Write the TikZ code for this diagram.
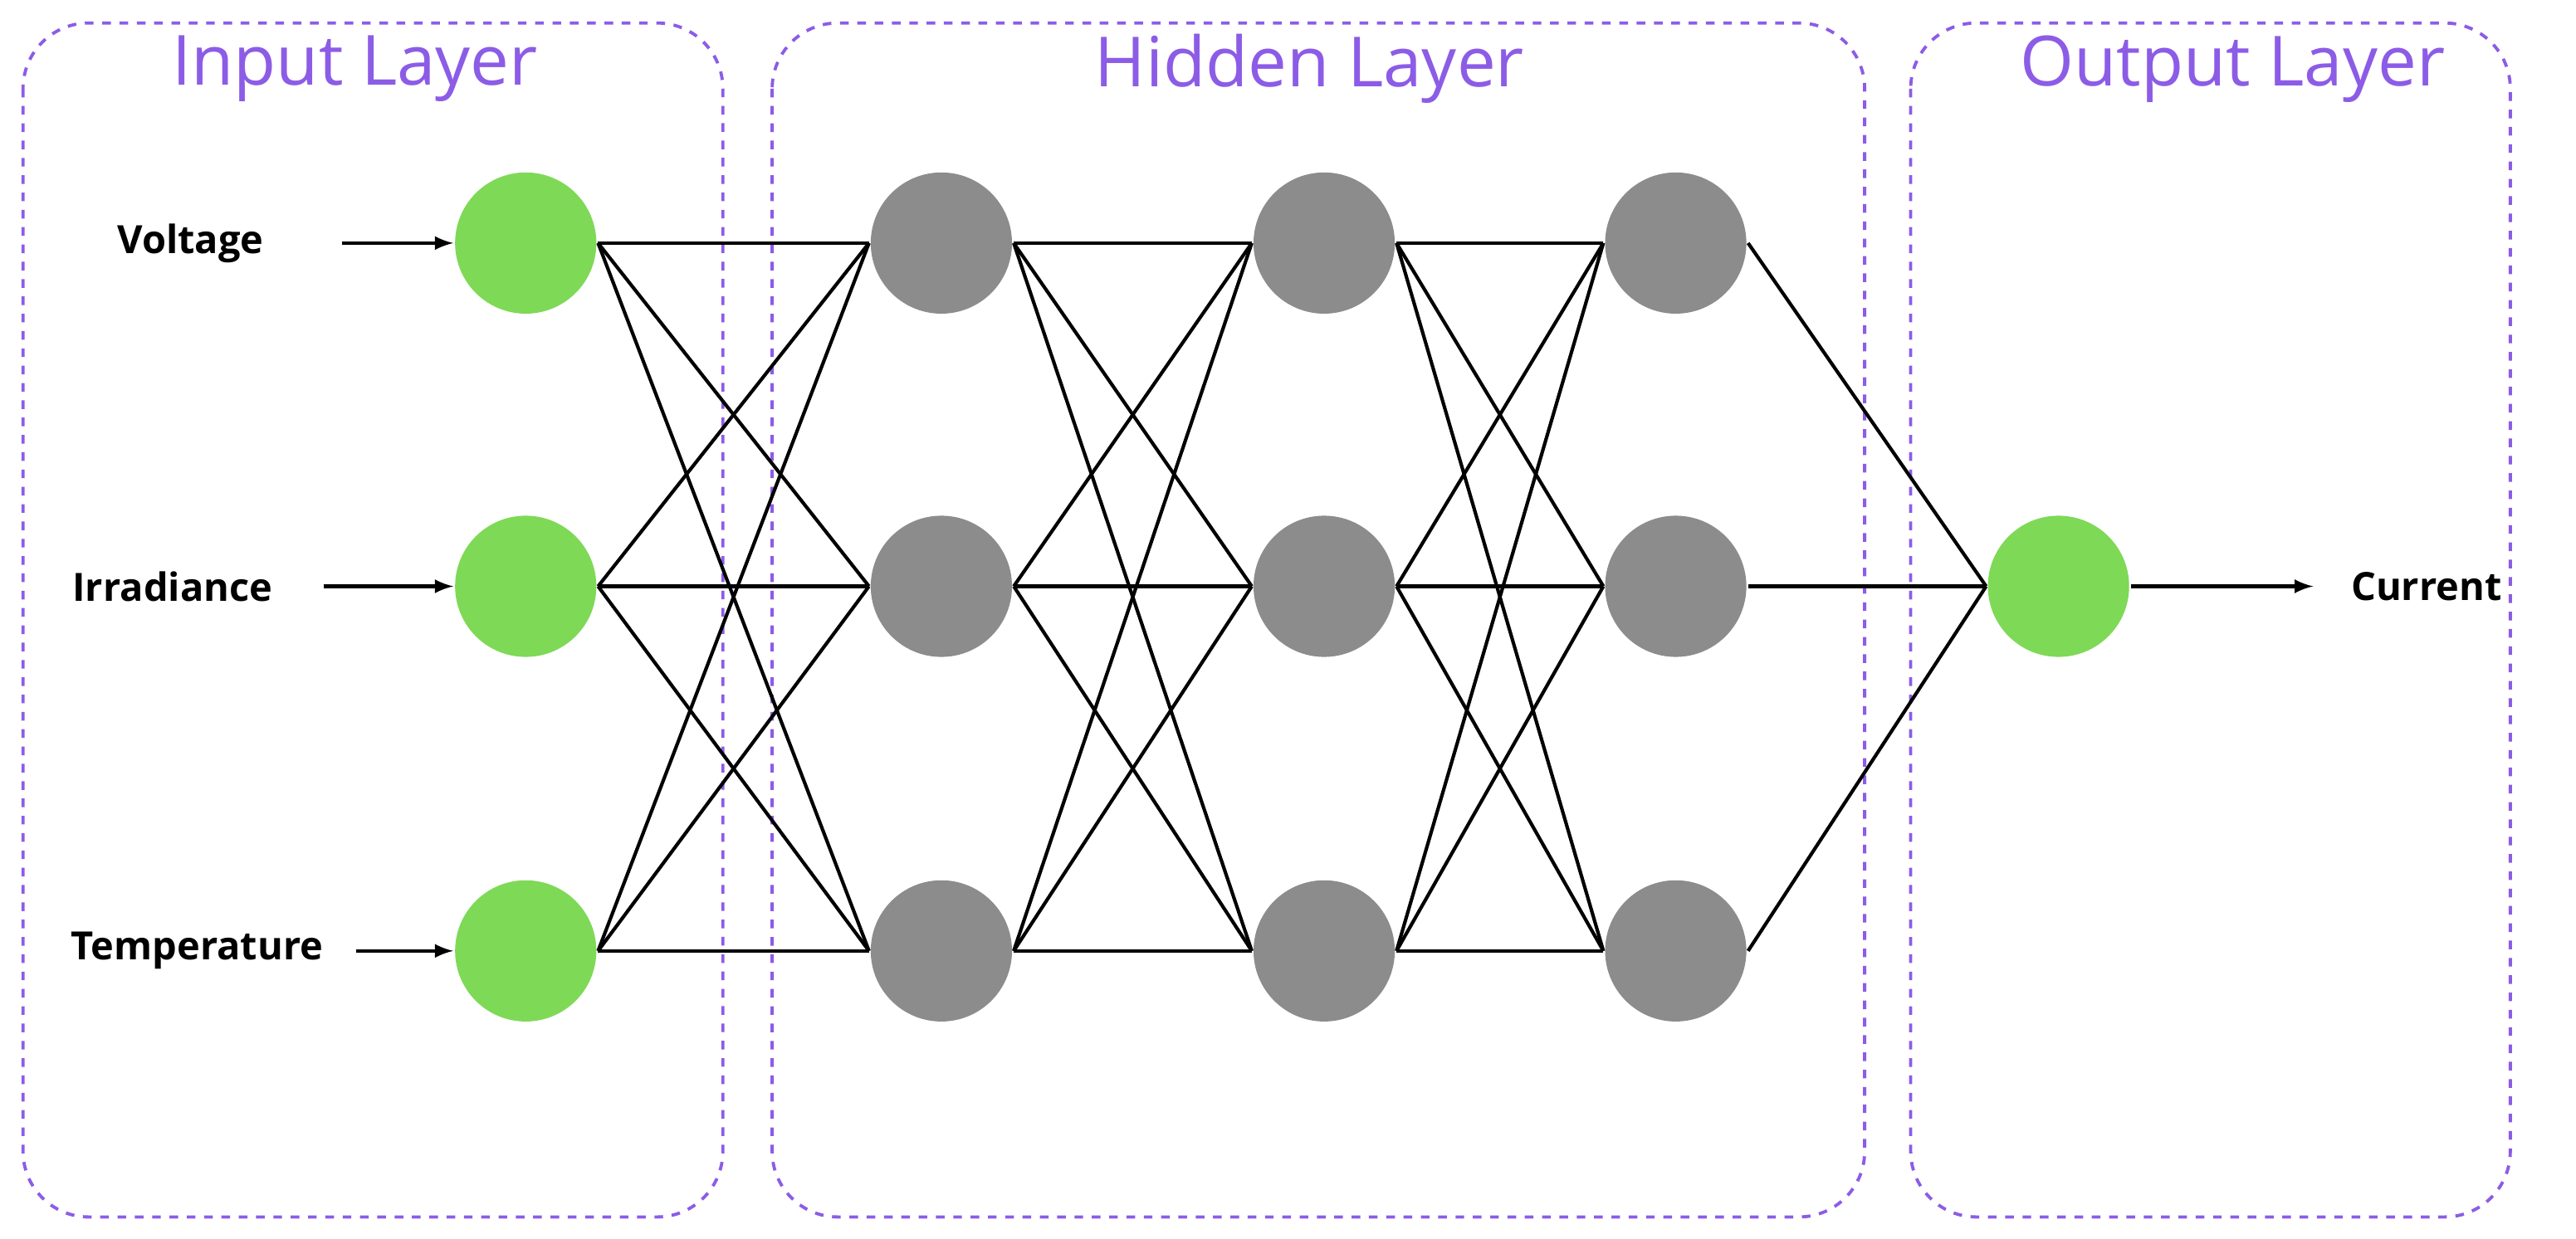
\documentclass[tikz,border=0pt]{standalone}
\usepackage{fontspec}
\setmainfont{Open Sans}
\usetikzlibrary{positioning}
\definecolor{layerpurple}{RGB}{140,92,230}
\definecolor{ingreen}{RGB}{126,217,87}
\definecolor{hidgray}{RGB}{140,140,140}

\begin{document}
\begin{tikzpicture}[x=0.02cm, y=-0.02cm, line width=1.2pt,
    neuron/.style={circle, minimum size=1.72cm, inner sep=0pt},
    io neuron/.style={neuron, fill=ingreen},
    hid/.style={neuron, fill=hidgray},
    layer/.style={draw=layerpurple, dashed, rounded corners=0.8cm, line width=1.1pt},
    title/.style={text=layerpurple, font=\fontsize{24}{28}\selectfont},
    lbl/.style={font=\bfseries\fontsize{13.5}{16}\selectfont}]
   \useasboundingbox (0,0) rectangle (1568,754);
   \draw[layer] (14,14) rectangle (440,741);
   \draw[layer] (470,14) rectangle (1135,741);
   \draw[layer] (1163,14) rectangle (1528,741);
   \node[title] (tin) at (216,42) {Input Layer};
   \node[title] (thid) at (797,42) {Hidden Layer};
   \node[title] (tout) at (1359,42) {Output Layer};

   % neurons
   \node[io neuron] (i1) at (320,148) {};
   \node[io neuron] (i2) at (320,357) {};
   \node[io neuron] (i3) at (320,579) {};
   \foreach \l/\x in {a/573, b/806, c/1020} {
      \node[hid] (\l1) at (\x,148) {};
      \node[hid] (\l2) at (\x,357) {};
      \node[hid] (\l3) at (\x,579) {};
   }
   \node[io neuron] (o) at (1253,357) {};

   % inputs and output
   \node[lbl] (v) at (116,148) {Voltage};
   \node[lbl] (r) at (105,357) {Irradiance};
   \node[lbl] (t) at (120,579) {Temperature};
   \node[lbl] (c) at (1477,357) {Current};
   \coordinate (va) at (208,148);
   \coordinate (ra) at (197,357);
   \coordinate (ta) at (217,579);
   \coordinate (ce) at (1408,357);
   \draw[-latex] (va) -- (i1.west);
   \draw[-latex] (ra) -- (i2.west);
   \draw[-latex] (ta) -- (i3.west);
   \draw[-latex] (o.east) -- (ce);

   % weights
   \foreach \s/\d in {i/a, a/b, b/c}
      \foreach \m in {1,2,3}
         \foreach \n in {1,2,3}
            \draw (\s\m.east) -- (\d\n.west);
   \foreach \m in {1,2,3}
      \draw (c\m.east) -- (o.west);
\end{tikzpicture}
\end{document}
